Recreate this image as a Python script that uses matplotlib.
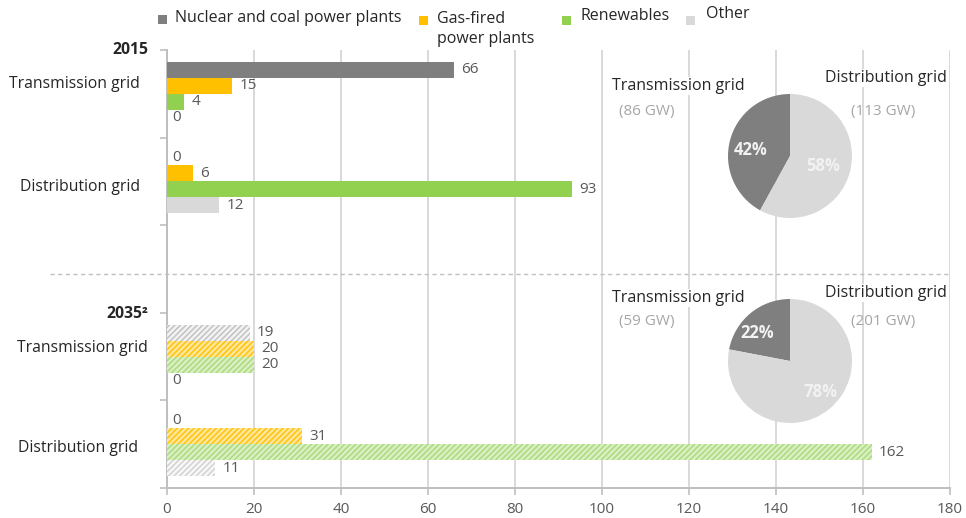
import matplotlib
matplotlib.use("Agg")
import matplotlib.pyplot as plt
from matplotlib.patches import Rectangle
import numpy as np

plt.rcParams['font.family'] = ['Open Sans', 'DejaVu Sans']
plt.rcParams['hatch.linewidth'] = 1.0

# Installed capacity by grid level (GW)
series = ["Nuclear and coal power plants", "Gas-fired\npower plants", "Renewables", "Other"]
colors = ["#7f7f7f", "#ffc000", "#92d050", "#d9d9d9"]
hatch_faces = ["#f2f2f2", "#ffe699", "#d9efc2", "#f7f7f7"]
hatch_lines = ["#bfbfbf", "#ffc000", "#a9d978", "#d0d0d0"]

groups = ["2015", "2035\u00b2"]
grid_levels = ["Transmission grid", "Distribution grid"]

# values per year and grid level, in series order
values_2015_transmission = [66, 15, 4, 0]
values_2015_distribution = [0, 6, 93, 12]
values_2035_transmission = [19, 20, 20, 0]
values_2035_distribution = [0, 31, 162, 11]

pie_2015_shares = [42, 58]
pie_2035_shares = [22, 78]
pie_2015_totals = ["(86 GW)", "(113 GW)"]
pie_2035_totals = ["(59 GW)", "(201 GW)"]
pie_colors = ["#7f7f7f", "#d9d9d9"]

x_ticks = [0, 20, 40, 60, 80, 100, 120, 140, 160, 180]

W, H = 966, 518
fig = plt.figure(figsize=(W / 100, H / 100), dpi=100)

def fx(px):
    return px / W

def fy(py):
    return 1 - py / H

ax = fig.add_axes([fx(167), fy(488), fx(950) - fx(167), fy(50) - fy(488)])

# band layout: 0 = 2015 transmission, 1 = 2015 distribution, 2 = spacer,
# 3 = 2035 transmission, 4 = 2035 distribution
rows = [
    (0.5, values_2015_transmission, False),
    (1.5, values_2015_distribution, False),
    (3.5, values_2035_transmission, True),
    (4.5, values_2035_distribution, True),
]
bar_h = 16 / 87.6
label_color = "#595959"
for center, vals, hatched in rows:
    offsets = (np.arange(4) - 1.5) * bar_h
    for i, v in enumerate(vals):
        y = center + offsets[i]
        if hatched:
            ax.barh(y, v, height=bar_h, color=hatch_faces[i], edgecolor=hatch_lines[i],
                    linewidth=0, hatch="//////", zorder=3)
        else:
            ax.barh(y, v, height=bar_h, color=colors[i], linewidth=0, zorder=3)
        ax.text(v + 1.7 if v > 0 else 1.3, y, str(v), va="center", ha="left",
                fontsize=11, color=label_color, zorder=4)

ax.set_xlim(0, 180)
ax.set_ylim(5, 0)
ax.set_xticks(x_ticks)
ax.set_xticklabels([str(t) for t in x_ticks], fontsize=11, color=label_color)
ax.set_yticks([0, 1, 2, 3, 4, 5])
ax.set_yticklabels([])
ax.tick_params(axis="x", length=5, color="#bfbfbf", width=1.2, pad=5)
ax.tick_params(axis="y", length=5, color="#bfbfbf", width=1.2)
ax.grid(axis="x", color="#d9d9d9", linewidth=1.4, zorder=0)
ax.set_axisbelow(True)
for side in ["top", "right"]:
    ax.spines[side].set_visible(False)
for side in ["left", "bottom"]:
    ax.spines[side].set_color("#bfbfbf")
    ax.spines[side].set_linewidth(1.4)

# separator between the two years
ax.plot([-0.15, 1.0], [2.56, 2.56], transform=ax.get_yaxis_transform(), ls=(0, (3, 2.5)),
        color="#bfbfbf", lw=1.0, clip_on=False, zorder=1)

# row labels
row_text = [
    ("2015", 148, 50, True),
    ("Transmission grid", 140, 84, False),
    ("Distribution grid", 140, 187, False),
    ("2035\u00b2", 148, 314, True),
    ("Transmission grid", 148, 348, False),
    ("Distribution grid", 138, 448, False),
]
for txt, px, py, bold in row_text:
    fig.text(fx(px), fy(py), txt, ha="right", va="center", fontsize=11.3,
             fontweight="bold" if bold else "normal", color="#262626")

# legend
legend_items = [
    (158, 19, 175, 18, series[0]),
    (419, 20, 437, 29, series[1]),
    (562, 20, 581, 16, series[2]),
    (686, 20, 706, 14, series[3]),
]
for i, (sx, sy, tx, ty, lab) in enumerate(legend_items):
    fig.add_artist(Rectangle((fx(sx), fy(sy + 4.5)), 9 / W, 9 / H, transform=fig.transFigure,
                             facecolor=colors[i], edgecolor="none"))
    fig.text(fx(tx), fy(ty), lab, ha="left", va="center", fontsize=11.5, color="#262626",
             linespacing=1.4)

# pies
def draw_pie(cx, cy, shares, totals, title_y, total_y, pct_pos):
    r = 62
    pax = fig.add_axes([fx(cx - r), fy(cy + r), 2 * r / W, 2 * r / H])
    pax.pie(shares, colors=pie_colors, startangle=90, counterclock=True,
            wedgeprops=dict(linewidth=0))
    pax.set_xlim(-1, 1)
    pax.set_ylim(-1, 1)
    pax.set_aspect("auto")
    pax.axis("off")
    for s, (px, py) in zip(shares, pct_pos):
        fig.text(fx(px), fy(py), f"{s}%", ha="center", va="center", fontsize=12,
                 fontweight="bold", color="#f2f2f2")
    fig.text(fx(678), fy(title_y[0]), "Transmission grid", ha="center", va="center",
             fontsize=11.5, color="#262626",
             bbox=dict(facecolor="white", edgecolor="none", pad=1))
    fig.text(fx(886), fy(title_y[1]), "Distribution grid", ha="center", va="center",
             fontsize=11.5, color="#262626",
             bbox=dict(facecolor="white", edgecolor="none", pad=1))
    fig.text(fx(647), fy(total_y), totals[0], ha="center", va="center", fontsize=11,
             color="#a6a6a6")
    fig.text(fx(883), fy(total_y), totals[1], ha="center", va="center", fontsize=11,
             color="#a6a6a6")

draw_pie(790, 156, pie_2015_shares, pie_2015_totals, (86, 78), 111,
         [(751, 150), (823, 166)])
draw_pie(790, 361, pie_2035_shares, pie_2035_totals, (298, 293), 321,
         [(757, 333), (820, 392)])

fig.savefig("out.png", dpi=100)
